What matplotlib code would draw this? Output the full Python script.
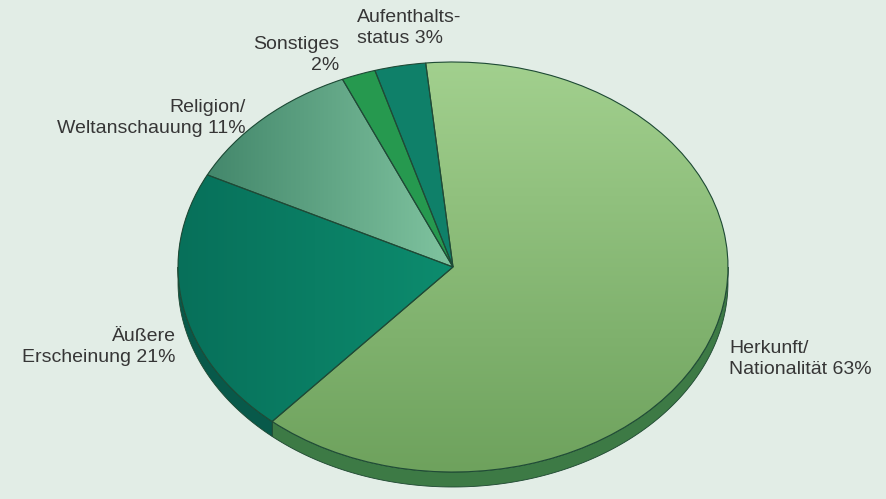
import numpy as np
import matplotlib
matplotlib.use("Agg")
import matplotlib.pyplot as plt
from matplotlib.colors import LinearSegmentedColormap
from matplotlib.patches import PathPatch

# Shares in percent, drawn clockwise from the top
labels = ["Aufenthalts-\nstatus 3%", "Herkunft/\nNationalität 63%",
          "Äußere\nErscheinung 21%", "Religion/\nWeltanschauung 11%",
          "Sonstiges\n2%"]
values = [3, 63, 21, 11, 2]
top_colors = ["#0f8069", "#8cc478", "#0b8a6c", "#62ad8a", "#26994f"]
side_colors = ["#0a5c4c", "#3d7a45", "#08594a", "#3f7a5e", "#17703a"]

W, H = 887, 499
cx, cy = 453, 267        # pie centre in pixels
rx, ry = 275, 205        # ellipse radii in pixels
depth = 15               # thickness of the pie in pixels
start = 106.5            # angle of first wedge edge (degrees)

fig = plt.figure(figsize=(W / 100, H / 100), dpi=100)
fig.patch.set_facecolor("#e2ede6")
ax = fig.add_axes([0, 0, 1, 1])
ax.set_facecolor("#e2ede6")
d = depth / ry

# side wall: lower visible part of each wedge rim
fracs = np.array(values, float) / sum(values)
edges = start - np.concatenate([[0], np.cumsum(fracs) * 360])
for i in range(len(values)):
    a1, a0 = edges[i + 1], edges[i]   # clockwise: a1 < a0
    lo, hi = a1 % 360, (a1 % 360) + (a0 - a1)
    for base in (0, 360):
        s, e = max(lo, 180 + base), min(hi, 360 + base)
        if e > s:
            t = np.radians(np.linspace(s, e, 200))
            xs = np.concatenate([np.cos(t), np.cos(t[::-1])])
            ys = np.concatenate([np.sin(t), np.sin(t[::-1]) - d])
            ax.fill(xs, ys, color=side_colors[i], lw=0.6,
                    edgecolor="#1d4630", zorder=1)

wedges, _ = ax.pie(values, colors=top_colors, startangle=start,
                   counterclock=False, radius=1.0, center=(0, 0),
                   wedgeprops=dict(linewidth=0), frame=True)
for w in wedges:
    w.set_zorder(2)

# unit circle squashed into an ellipse by the axis limits
ax.set_xlim(-cx / rx, (W - cx) / rx)
ax.set_ylim(-(H - cy) / ry, cy / ry)
ax.set_aspect("auto")
ax.axis("off")

# soft shading on the larger wedges
grad = np.linspace(0, 1, 256).reshape(-1, 1)
cm_big = LinearSegmentedColormap.from_list("g1", ["#6ea25d", "#a2d08e"])
im = ax.imshow(grad, cmap=cm_big, extent=(-1, 1, -1, 1), origin="lower",
               aspect="auto", zorder=2.5)
im.set_clip_path(wedges[1])
gradx = np.linspace(0, 1, 256).reshape(1, -1)
cm_rel = LinearSegmentedColormap.from_list("g2", ["#43876b", "#80c4a0"])
im2 = ax.imshow(gradx, cmap=cm_rel, extent=(-0.9, 0.0, 0, 1),
                origin="lower", aspect="auto", zorder=2.5)
im2.set_clip_path(wedges[3])
cm_aus = LinearSegmentedColormap.from_list("g3", ["#07705a", "#0d8c6e"])
im3 = ax.imshow(gradx, cmap=cm_aus, extent=(-1, 0, -1, 0.5),
                origin="lower", aspect="auto", zorder=2.5)
im3.set_clip_path(wedges[2])

# wedge outlines on top of the shading
for w in wedges:
    ax.add_patch(PathPatch(w.get_path(), transform=w.get_transform(),
                           fill=False, lw=0.8, edgecolor="#1f4a36",
                           zorder=3))


def px(x, y):
    return (x - cx) / rx, (cy - y) / ry


txt = dict(fontsize=14, color="#363636",
           family=["Liberation Sans", "DejaVu Sans"],
           linespacing=1.3, va="center")
ax.text(*px(729, 359), labels[1], ha="left", **txt)
ax.text(*px(176, 347), labels[2], ha="right", **txt)
ax.text(*px(246, 118), labels[3], ha="right", **txt)
ax.text(*px(339, 55), labels[4], ha="right", **txt)
ax.text(*px(357, 28), labels[0], ha="left", **txt)

fig.savefig("out.png", dpi=100, facecolor=fig.get_facecolor())
